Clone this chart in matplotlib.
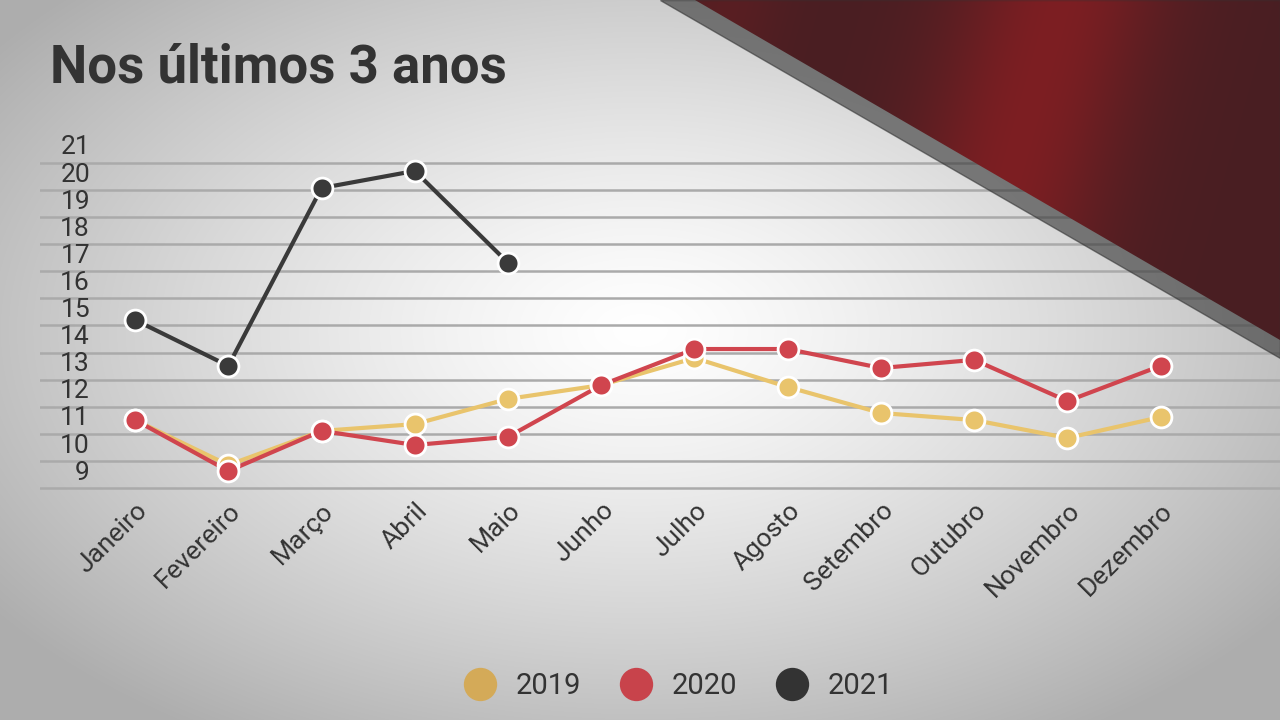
import numpy as np
import matplotlib
matplotlib.use("Agg")
import matplotlib.pyplot as plt
from matplotlib.patches import Polygon
from matplotlib.lines import Line2D

months = ["Janeiro","Fevereiro","Março","Abril","Maio","Junho","Julho","Agosto",
          "Setembro","Outubro","Novembro","Dezembro"]
v2019 = [10.85, 9.19, 10.45, 10.70, 11.63, 12.14, 13.14, 12.07, 11.11, 10.85, 10.19, 10.96]
v2020 = [10.85, 8.97, 10.45, 9.93, 10.23, 12.14, 13.47, 13.47, 12.77, 13.07, 11.55, 12.85]
v2021 = [14.54, 12.85, 19.41, 20.04, 16.65]
yticks = list(range(9, 22))
series = [("2019", v2019, "#e9c46c", "#d4aa58"),
          ("2020", v2020, "#d0454e", "#c8434b"),
          ("2021", v2021, "#3a3a3a", "#333333")]

W, H = 1280, 720
fig = plt.figure(figsize=(12.8, 7.2), dpi=100)

# background radial gradient
bg = fig.add_axes([0, 0, 1, 1], zorder=0)
yy, xx = np.mgrid[0:H, 0:W]
r = np.sqrt(((xx - 640) / 800.0) ** 2 + ((yy - 330) / 480.0) ** 2)
g = np.clip(1.0 - 0.32 * r ** 1.3, 0.68, 1.0)
bg.imshow(np.dstack([g, g, g]), extent=[0, W, H, 0], aspect="auto")
bg.set_xlim(0, W); bg.set_ylim(H, 0); bg.axis("off")

fig.text(50 / W, 1 - 68 / H, "Nos últimos 3 anos", fontsize=38, fontweight="bold",
         family="Roboto", color="#333333", va="center", stretch="condensed")

ax = fig.add_axes([40 / W, 1 - 490 / H, 1240 / W, 360 / H], zorder=1)
ax.patch.set_alpha(0)
x = np.arange(len(months))
ax.set_xlim(-1.02, 12.28)
ax.set_ylim(8.27, 21.55)
for v in yticks:
    ax.axhline(v - 0.66, color="#aaaaaa", lw=1.8, zorder=1)
for name, vals, lc, mc in series:
    ax.plot(x[:len(vals)], vals, color=lc, lw=3, zorder=3)
    ax.plot(x[:len(vals)], vals, "o", ms=15, mfc=lc, mec="white", mew=2, zorder=4)
ax.set_yticks(yticks)
ax.set_yticklabels([str(v) for v in yticks], fontsize=19, family="Roboto", color="#333333")
ax.set_xticks(x)
ax.set_xticklabels(months, rotation=45, ha="right", va="top", rotation_mode="anchor",
                   fontsize=19, family="Roboto", color="#333333")
ax.tick_params(length=0, pad=6)
ax.tick_params(axis="y", pad=-36)
for s in ax.spines.values():
    s.set_visible(False)

# ribbon overlay on top
top = fig.add_axes([0, 0, 1, 1], zorder=5)
top.patch.set_alpha(0)
top.set_xlim(0, W); top.set_ylim(H, 0); top.axis("off")
top.add_patch(Polygon([[660, 0], [1280, 0], [1280, 358]], closed=True, color="#333333", alpha=0.6))
ribbon = np.zeros((H, W, 4))
t = (xx - 700) / 580.0 + (yy / 720.0) * 0.35
red = 0.42 + 0.5 * np.exp(-((t - 0.62) / 0.18) ** 2) + 0.15 * np.exp(-((t - 0.05) / 0.1) ** 2)
ribbon[..., 0] = np.clip(red, 0, 1)
ribbon[..., 1] = 0.0
ribbon[..., 2] = 0.04
ribbon[..., 3] = 1
im = top.imshow(ribbon, extent=[0, W, H, 0], aspect="auto")
clip = Polygon([[695, 0], [1280, 0], [1280, 340]], closed=True, transform=top.transData)
im.set_clip_path(clip)
top.set_xlim(0, W); top.set_ylim(H, 0)

handles = [Line2D([], [], ls="", marker="o", ms=24, mfc=mc, mec="none") for _, _, _, mc in series]
fig.legend(handles, [s[0] for s in series], loc="center", bbox_to_anchor=(0.525, 1 - 686 / H),
           ncol=3, frameon=False, prop={"family": "Roboto", "size": 21}, handletextpad=0.2,
           columnspacing=0.9, labelcolor="#333333")

fig.savefig("out.png", dpi=100)
